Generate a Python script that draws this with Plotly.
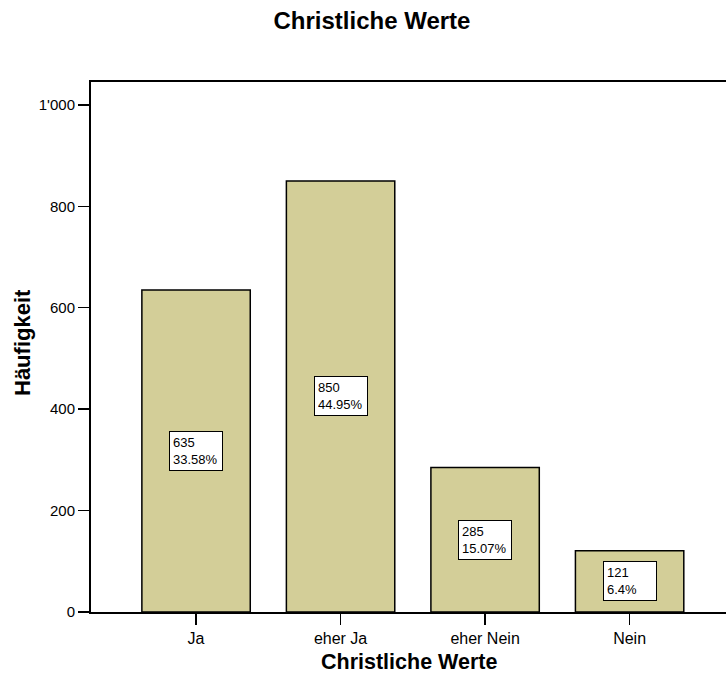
import plotly.graph_objects as go

categories = ["Ja", "eher Ja", "eher Nein", "Nein"]
counts = [635, 850, 285, 121]
percent_labels = ["33.58%", "44.95%", "15.07%", "6.4%"]
y_tickvals = [0, 200, 400, 600, 800, 1000]

FONT = "Liberation Sans, Arial, sans-serif"
BAR_COLOR = "#D3CE98"
W, H = 726, 673
L, R, T, B = 91, 0, 82, 61
PLOT_H = H - T - B

x_idx = list(range(len(categories)))

fig = go.Figure()
fig.add_trace(go.Bar(
    x=x_idx, y=counts, width=0.75,
    marker=dict(color=BAR_COLOR, line=dict(color="black", width=1.5)),
    hoverinfo="skip",
))

for i, (c, p) in enumerate(zip(counts, percent_labels)):
    fig.add_annotation(
        x=i, y=c / 2, xref="x", yref="y",
        text=f"{c}<br>{p}", showarrow=False, align="left",
        font=dict(family=FONT, size=13, color="black"),
        bgcolor="white", bordercolor="black", borderwidth=1, borderpad=3,
        width=46,
    )

# axis titles as annotations for exact placement
fig.add_annotation(
    text="<b>Christliche Werte</b>", showarrow=False,
    xref="paper", yref="paper", x=(409 - L) / (W - L - R), xanchor="center",
    y=-(662 - (H - B)) / PLOT_H, yanchor="middle",
    font=dict(family=FONT, size=21.5, color="black"),
)
fig.add_annotation(
    text="<b>Häufigkeit</b>", showarrow=False, textangle=-90,
    xref="paper", yref="paper", x=-(L - 22) / (W - L - R), xanchor="center",
    y=((H - B) - 343) / PLOT_H, yanchor="middle",
    font=dict(family=FONT, size=22, color="black"),
)

fig.update_layout(
    width=W, height=H,
    margin=dict(l=L, r=R, t=T, b=B, autoexpand=False),
    plot_bgcolor="white", paper_bgcolor="white",
    separators=".'",
    showlegend=False,
    font=dict(family=FONT, color="black"),
    title=dict(text="<b>Christliche Werte</b>", x=372 / W, xanchor="center",
               y=1 - 21 / H, yanchor="middle", yref="container",
               font=dict(family=FONT, size=24, color="black"), automargin=False),
    bargap=0,
)

fig.update_xaxes(
    range=[-0.727, 3.667], automargin=False,
    tickmode="array", tickvals=x_idx, ticktext=categories,
    showline=True, linecolor="black", linewidth=2, mirror=True,
    ticks="outside", ticklen=11, tickwidth=1.5, tickcolor="black",
    tickfont=dict(family=FONT, size=16, color="black"),
    showgrid=False, zeroline=False,
)
fig.update_yaxes(
    range=[0, 1045], automargin=False,
    tickmode="array", tickvals=y_tickvals, tickformat=",d",
    showline=True, linecolor="black", linewidth=2,
    ticks="outside", ticklen=11, tickwidth=1.5, tickcolor="black",
    tickfont=dict(family=FONT, size=15, color="black"),
    showgrid=False, zeroline=False,
)

fig.write_html(
    "out.html",
    config={"displayModeBar": False, "staticPlot": True},
    post_script="document.body.style.margin='0';document.body.style.overflow='hidden';",
)
